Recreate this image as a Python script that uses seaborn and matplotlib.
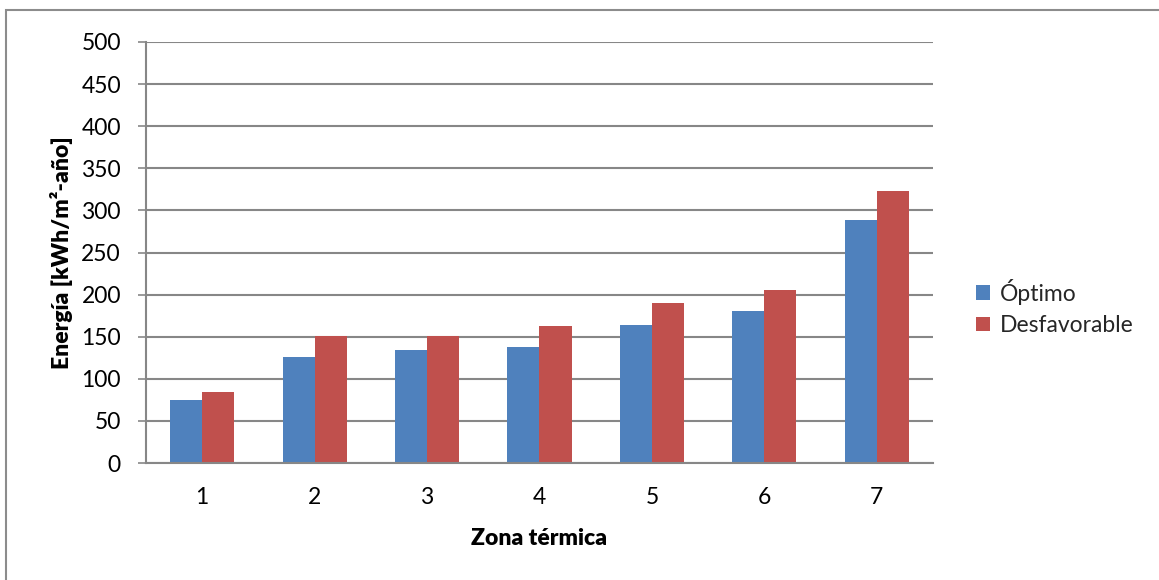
import matplotlib
matplotlib.use("Agg")
import matplotlib.pyplot as plt
from matplotlib.patches import Rectangle
import seaborn as sns
import pandas as pd

# Energy demand by thermal zone, two orientation scenarios
zonas = ["1", "2", "3", "4", "5", "6", "7"]
optimo = [75, 126, 134, 138, 164, 181, 289]
desfavorable = [84, 151, 151, 163, 190, 206, 323]
series = ["Óptimo", "Desfavorable"]
colores = ["#4F81BD", "#C0504D"]
y_ticks = [0, 50, 100, 150, 200, 250, 300, 350, 400, 450, 500]

df = pd.DataFrame({
    "zona": zonas * 2,
    "energia": optimo + desfavorable,
    "serie": [series[0]] * len(zonas) + [series[1]] * len(zonas),
})

sns.set_theme(style="white")
plt.rcParams["font.family"] = ["Lato", "DejaVu Sans"]
FS = 16.5

W, H = 1159, 580
fig = plt.figure(figsize=(W / 100, H / 100), dpi=100)
fig.patch.set_facecolor("white")

# plot area in pixel terms
left, right, top, bottom = 146, 933, 42, 463
ax = fig.add_axes([left / W, 1 - bottom / H, (right - left) / W, (bottom - top) / H])

sns.barplot(data=df, x="zona", y="energia", hue="serie", order=zonas,
            hue_order=series, palette=colores, saturation=1, width=0.57,
            ax=ax, linewidth=0)

ax.set_xlim(-0.5, len(zonas) - 0.5)
ax.set_ylim(0, 500)
ax.set_yticks(y_ticks)
ax.set_yticklabels([str(t) for t in y_ticks])

grid_col = "#878787"
ax.yaxis.grid(True, color=grid_col, linewidth=1.5)
ax.set_axisbelow(True)
for s in ["top", "right"]:
    ax.spines[s].set_visible(False)
for s in ["left", "bottom"]:
    ax.spines[s].set_color(grid_col)
    ax.spines[s].set_linewidth(1.5)

ax.tick_params(axis="y", which="major", direction="out", length=6, width=1.2,
               color=grid_col, pad=12, labelsize=FS, labelcolor="black", left=True)
ax.tick_params(axis="x", length=0, pad=17, labelsize=FS, labelcolor="black")

ax.set_xlabel("Zona térmica", fontsize=FS, fontweight="heavy", color="black")
ax.set_ylabel("Energía [kWh/m²-año]", fontsize=FS, fontweight="heavy", color="black")
ax.xaxis.set_label_coords(0.5, -0.154)
ax.yaxis.set_label_coords(-0.093, 0.5)

handles, labels = ax.get_legend_handles_labels()
ax.get_legend().remove()
fig.legend(handles, labels, loc="center left", bbox_to_anchor=(976 / W, 1 - 307.5 / H),
           frameon=False, fontsize=FS, handlelength=0.6, handleheight=0.6,
           handletextpad=0.45, labelspacing=0.45, borderpad=0, borderaxespad=0)

# outer chart border
fig.patches.append(Rectangle((6 / W, -0.1), 1.2, 1 - 10 / H + 0.1, transform=fig.transFigure,
                             fill=False, edgecolor="#8c8c8c", linewidth=1.5))

fig.savefig("out.png", dpi=100, facecolor="white")
